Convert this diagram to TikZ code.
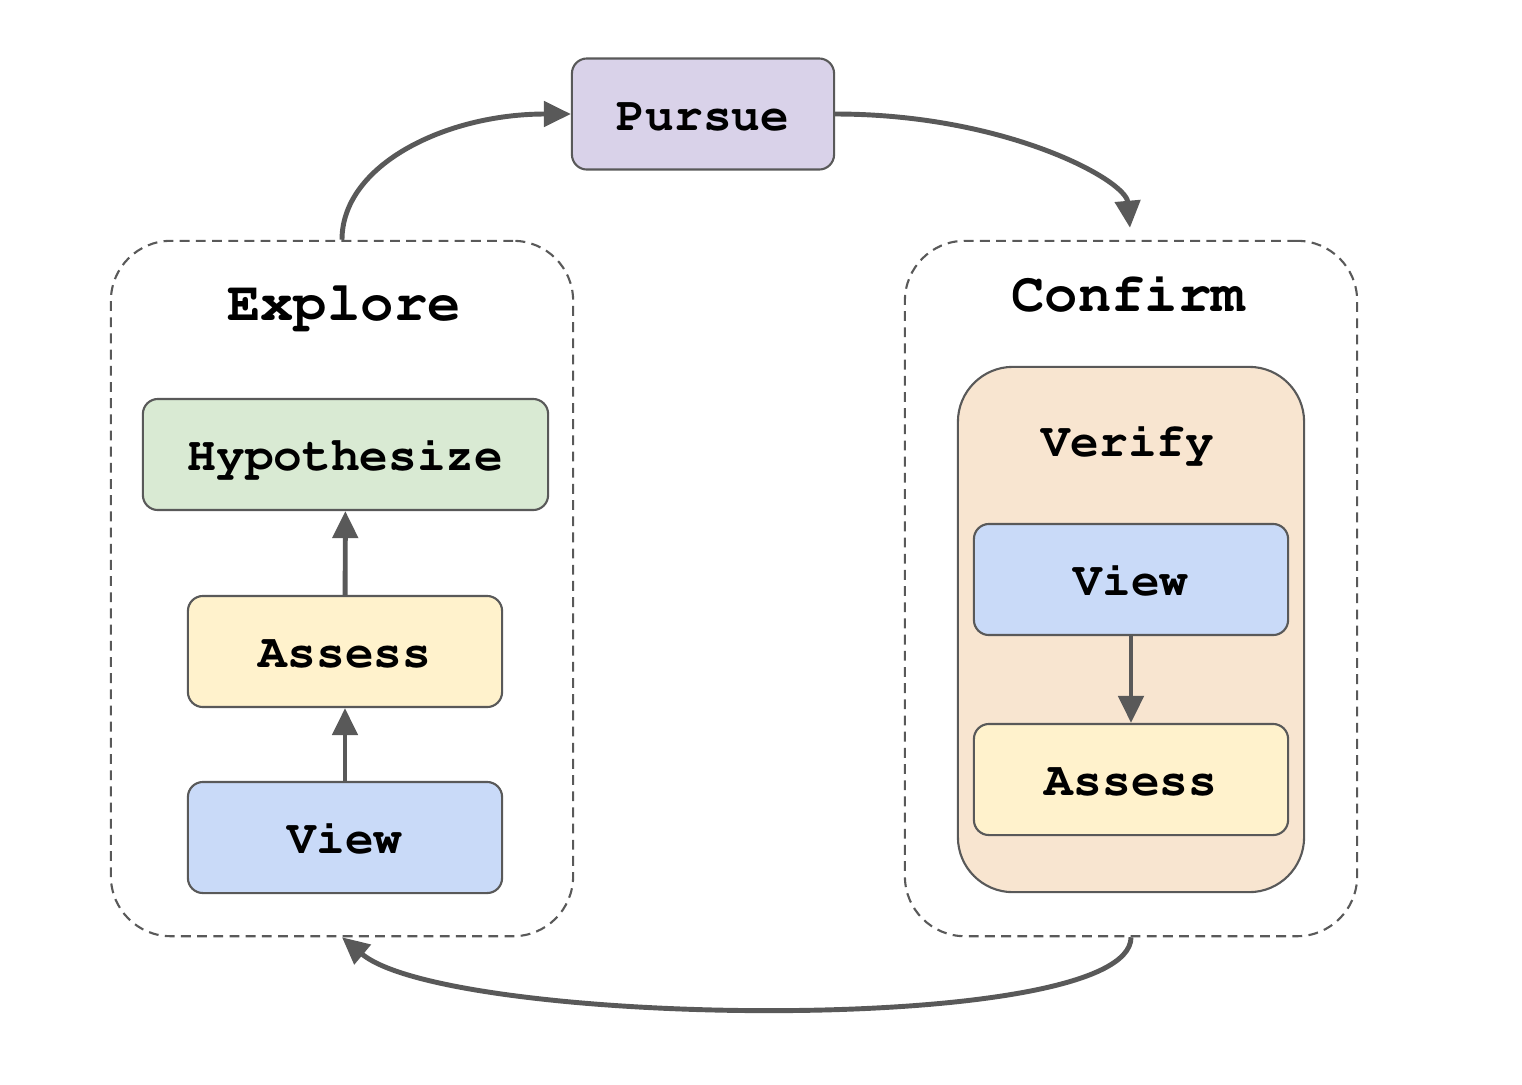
\documentclass[tikz,border=0pt]{standalone}
\usepackage[T1]{fontenc}
\usetikzlibrary{arrows.meta}

\definecolor{linegray}{HTML}{595959}
\definecolor{pursuefill}{HTML}{D9D2E9}
\definecolor{hypofill}{HTML}{D9EAD3}
\definecolor{assessfill}{HTML}{FFF2CC}
\definecolor{viewfill}{HTML}{C9DAF8}
\definecolor{verifyfill}{HTML}{F8E5D0}

\newcommand{\boxfont}{\fontfamily{pcr}\bfseries\fontsize{13.6}{16}\selectfont}
\newcommand{\titlefont}{\fontfamily{pcr}\bfseries\fontsize{15.8}{18}\selectfont}

\tikzset{
    stage/.style={draw=linegray, line width=0.6pt, rounded corners=0.15cm,
        font=\boxfont, minimum height=1.11cm, inner sep=0pt,
        text height=9.1pt, text depth=0pt},
    phase/.style={draw=linegray, line width=0.6pt, dash pattern=on 2.8pt off 1.8pt,
        rounded corners=0.6cm, minimum height=6.95cm, inner sep=0pt},
    phasetitle/.style={font=\titlefont, inner sep=0pt, anchor=base},
    flow/.style={draw=linegray, line width=1.4pt,
        -{Triangle[length=0.27cm,width=0.25cm]}},
}

\begin{document}
\begin{tikzpicture}[x=0.01cm, y=-0.01cm]
    \useasboundingbox (0,0) rectangle (1522,1084);

    % top
    \node[stage, fill=pursuefill, minimum width=2.62cm] (pursue) at (703,114) {Pursue};

    % left phase
    \node[phase, minimum width=4.62cm] (explore) at (342,588.5) {};
    \node[phasetitle] (exploretitle) at (344,320) {Explore};
    \node[stage, fill=hypofill, minimum width=4.05cm] (hypo) at (345.5,454.5) {Hypothesize};
    \node[stage, fill=assessfill, minimum width=3.14cm] (assessL) at (345,651.5) {Assess};
    \node[stage, fill=viewfill, minimum width=3.14cm] (viewL) at (345,837.5) {View};

    % right phase
    \node[phase, minimum width=4.52cm] (confirm) at (1131,588.5) {};
    \node[phasetitle] (confirmtitle) at (1128,311.5) {Confirm};
    \node[draw=linegray, line width=0.6pt, fill=verifyfill, rounded corners=0.55cm,
        minimum width=3.46cm, minimum height=5.25cm] (verify) at (1131,629.5) {};
    \node[font=\boxfont, inner sep=0pt, anchor=base] (verifytitle) at (1128,456.5) {Verify};
    \node[stage, fill=viewfill, minimum width=3.14cm] (viewR) at (1131,579.5) {View};
    \node[stage, fill=assessfill, minimum width=3.14cm] (assessR) at (1131,779.5) {Assess};

    % arrows
    \draw[flow] (viewL) -- (assessL);
    \draw[flow] (assessL) -- (hypo);
    \draw[flow] (viewR) -- (assessR);

    \draw[flow] (explore.north) to[out=90, in=180, out distance=0.75cm, in distance=1.25cm] (pursue.west);
    \draw[flow, shorten >=0.12cm] (pursue.east) to[out=0, in=95, out distance=1.7cm, in distance=0.6cm] (confirm.north);
    \draw[flow] (confirm.south) to[out=-90, in=-40, out distance=1.0cm, in distance=1.4cm] (explore.south);
\end{tikzpicture}
\end{document}
